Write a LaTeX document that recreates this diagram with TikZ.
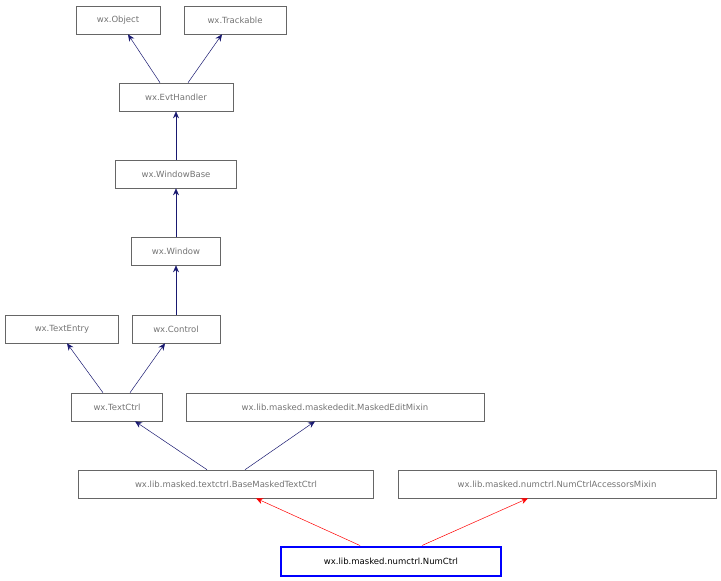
\documentclass[tikz,border=0pt]{standalone}
\usepackage{fontspec}
\setmainfont{DejaVu Sans}
\usetikzlibrary{calc,arrows.meta}
\definecolor{navy}{HTML}{191970}
\begin{document}
\begin{tikzpicture}[x=1pt,y=-1pt,
  cls/.style={draw=black!60,line width=0.6pt,text=black!55,font=\fontsize{8.5}{10}\selectfont,minimum height=28,inner xsep=6,anchor=center},
  main/.style={draw=blue,line width=2pt,text=black,font=\fontsize{8.5}{10}\selectfont,minimum height=29,inner xsep=8},
  inh/.style={draw=navy,line width=0.5pt,-{Stealth[length=7,width=6]}},
  rinh/.style={draw=red,line width=0.5pt,-{Stealth[length=7,width=6]}}]
\useasboundingbox (0,0) rectangle (721,581);
\node[cls,minimum width=84] (obj) at (118,20) {wx.Object};
\node[cls,minimum width=102] (trk) at (235,20) {wx.Trackable};
\node[cls,minimum width=114] (evt) at (176,97) {wx.EvtHandler};
\node[cls,minimum width=121] (wb) at (176,174) {wx.WindowBase};
\node[cls,minimum width=89] (win) at (176,251) {wx.Window};
\node[cls,minimum width=113] (te) at (62,329) {wx.TextEntry};
\node[cls,minimum width=88] (ctl) at (176,329) {wx.Control};
\node[cls,minimum width=91] (tc) at (117,407) {wx.TextCtrl};
\node[cls,minimum width=298] (mem) at (335,407) {wx.lib.masked.maskededit.MaskedEditMixin};
\node[cls,minimum width=295] (bmt) at (226,484) {wx.lib.masked.textctrl.BaseMaskedTextCtrl};
\node[cls,minimum width=318] (nca) at (557,484) {wx.lib.masked.numctrl.NumCtrlAccessorsMixin};
\node[main,minimum width=220] (nc) at (391,561) {wx.lib.masked.numctrl.NumCtrl};
\draw[inh] ($(evt.north)+(-16,0)$) -- ($(obj.south)+(10,0)$);
\draw[inh] ($(evt.north)+(12,0)$) -- ($(trk.south)+(-13,0)$);
\draw[inh] (wb.north) -- (evt.south);
\draw[inh] (win.north) -- (wb.south);
\draw[inh] (ctl.north) -- (win.south);
\draw[inh] ($(tc.north)+(-14,0)$) -- ($(te.south)+(5,0)$);
\draw[inh] ($(tc.north)+(13,0)$) -- ($(ctl.south)+(-11,0)$);
\draw[inh] ($(bmt.north)+(-19,0)$) -- ($(tc.south)+(18,0)$);
\draw[inh] ($(bmt.north)+(19,0)$) -- ($(mem.south)+(-20,0)$);
\draw[rinh] ($(nc.north)+(-31,0)$) -- ($(bmt.south)+(30,0)$);
\draw[rinh] ($(nc.north)+(31,0)$) -- ($(nca.south)+(-29,0)$);
\end{tikzpicture}
\end{document}
